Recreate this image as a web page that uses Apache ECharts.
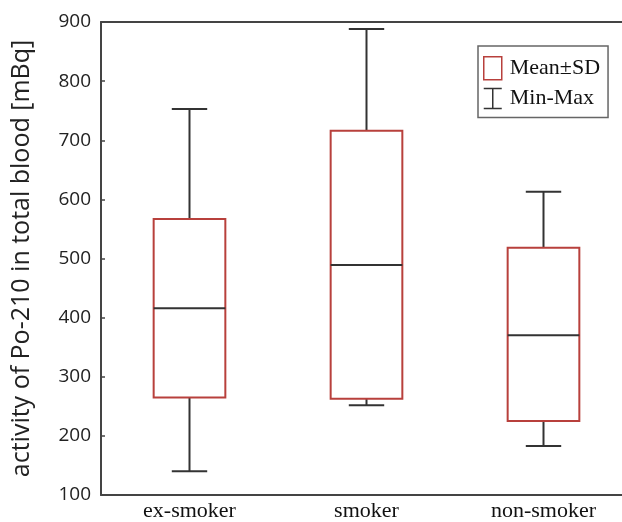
<!DOCTYPE html>
<html>
<head>
<meta charset="utf-8">
<script src="https://cdn.jsdelivr.net/npm/echarts@6/dist/echarts.min.js"></script>
<style>html,body{margin:0;padding:0;background:#fff;overflow:hidden;}#c{width:632px;height:522px;}</style>
</head>
<body>
<div id="c"></div>
<script>
const categories = ['ex-smoker', 'smoker', 'non-smoker'];
const minVals = [140, 252, 183];
const maxVals = [753, 888, 613];
const meanVals = [416, 489, 370];
const sdLow = [265, 263, 225];
const sdHigh = [567, 716, 518];
const yTicks = [100, 200, 300, 400, 500, 600, 700, 800, 900];

const boxData = categories.map((c, i) => [i, sdLow[i], meanVals[i], sdHigh[i]]);
const whiskerData = categories.map((c, i) => [i, minVals[i], sdLow[i], sdHigh[i], maxVals[i]]);

const RED = '#b8403c';
const DARK = '#333';

const chart = echarts.init(document.getElementById('c'), null, {renderer: 'canvas'});
chart.setOption({
  animation: false,
  backgroundColor: '#fff',
  grid: {left: 101, top: 22, bottom: 25, right: 0, containLabel: false},
  legend: {
    orient: 'vertical',
    left: 478, top: 46,
    padding: [10, 8, 8, 5],
    itemWidth: 18, itemHeight: 23, itemGap: 7,
    borderColor: '#666', borderWidth: 1.5,
    selectedMode: false,
    textStyle: {fontFamily: 'Liberation Serif', fontSize: 22, color: '#111', padding: [0, 0, 0, 3]},
    data: [
      {name: 'Mean±SD', icon: 'rect', itemStyle: {color: 'rgba(0,0,0,0)', borderColor: RED, borderWidth: 1.5}},
      {name: 'Min-Max', icon: 'path://M0,0H18M9,0V20M0,20H18', itemStyle: {color: 'rgba(0,0,0,0)', borderColor: DARK, borderWidth: 1.5}}
    ]
  },
  xAxis: [{
    type: 'category', data: categories, boundaryGap: true,
    axisLine: {lineStyle: {color: '#444', width: 2}},
    axisTick: {inside: true, length: 5, alignWithLabel: true, lineStyle: {color: '#444', width: 1.5}},
    axisLabel: {fontFamily: 'Liberation Serif', fontSize: 22, color: '#111', margin: 5}
  }, {
    type: 'category', data: categories, position: 'top',
    axisLine: {lineStyle: {color: '#444', width: 2}},
    axisTick: {show: false}, axisLabel: {show: false}
  }],
  yAxis: {
    type: 'value', min: 100, max: 900, interval: 100,
    name: 'activity of Po-210 in total blood [mBq]',
    nameLocation: 'middle', nameGap: 67, nameRotate: 90,
    nameTextStyle: {fontFamily: 'Open Sans', fontSize: 25, color: '#222'},
    axisLine: {show: true, lineStyle: {color: '#444', width: 2}},
    axisTick: {show: true, inside: true, length: 4, lineStyle: {color: '#444', width: 1.5}},
    axisLabel: {fontFamily: 'Open Sans', fontSize: 19, color: '#222', margin: 10,
      formatter: v => yTicks.includes(v) ? String(v) : ''},
    splitLine: {show: false}
  },
  series: [{
    name: 'Min-Max', type: 'custom', itemStyle: {color: DARK},
    data: whiskerData,
    renderItem: function (params, api) {
      const x = api.value(0);
      const pMin = api.coord([x, api.value(1)]);
      const pLow = api.coord([x, api.value(2)]);
      const pHigh = api.coord([x, api.value(3)]);
      const pMax = api.coord([x, api.value(4)]);
      const band = api.size([1, 0])[0];
      const cw = band * 0.2;
      const st = {stroke: DARK, lineWidth: 2};
      return {type: 'group', children: [
        {type: 'line', shape: {x1: pMax[0], y1: pMax[1], x2: pHigh[0], y2: pHigh[1]}, style: st},
        {type: 'line', shape: {x1: pLow[0], y1: pLow[1], x2: pMin[0], y2: pMin[1]}, style: st},
        {type: 'line', shape: {x1: pMax[0] - cw / 2, y1: pMax[1], x2: pMax[0] + cw / 2, y2: pMax[1]}, style: st},
        {type: 'line', shape: {x1: pMin[0] - cw / 2, y1: pMin[1], x2: pMin[0] + cw / 2, y2: pMin[1]}, style: st}
      ]};
    }
  }, {
    name: 'Mean±SD', type: 'custom', itemStyle: {color: RED},
    data: boxData,
    renderItem: function (params, api) {
      const x = api.value(0);
      const pLow = api.coord([x, api.value(1)]);
      const pMean = api.coord([x, api.value(2)]);
      const pHigh = api.coord([x, api.value(3)]);
      const band = api.size([1, 0])[0];
      const bw = band * 0.405;
      return {type: 'group', children: [
        {type: 'rect', shape: {x: pHigh[0] - bw / 2, y: pHigh[1], width: bw, height: pLow[1] - pHigh[1]},
          style: {fill: '#fff', stroke: RED, lineWidth: 2}},
        {type: 'line', shape: {x1: pMean[0] - bw / 2, y1: pMean[1], x2: pMean[0] + bw / 2, y2: pMean[1]},
          style: {stroke: DARK, lineWidth: 2}}
      ]};
    }
  }]
});
</script>
</body>
</html>
